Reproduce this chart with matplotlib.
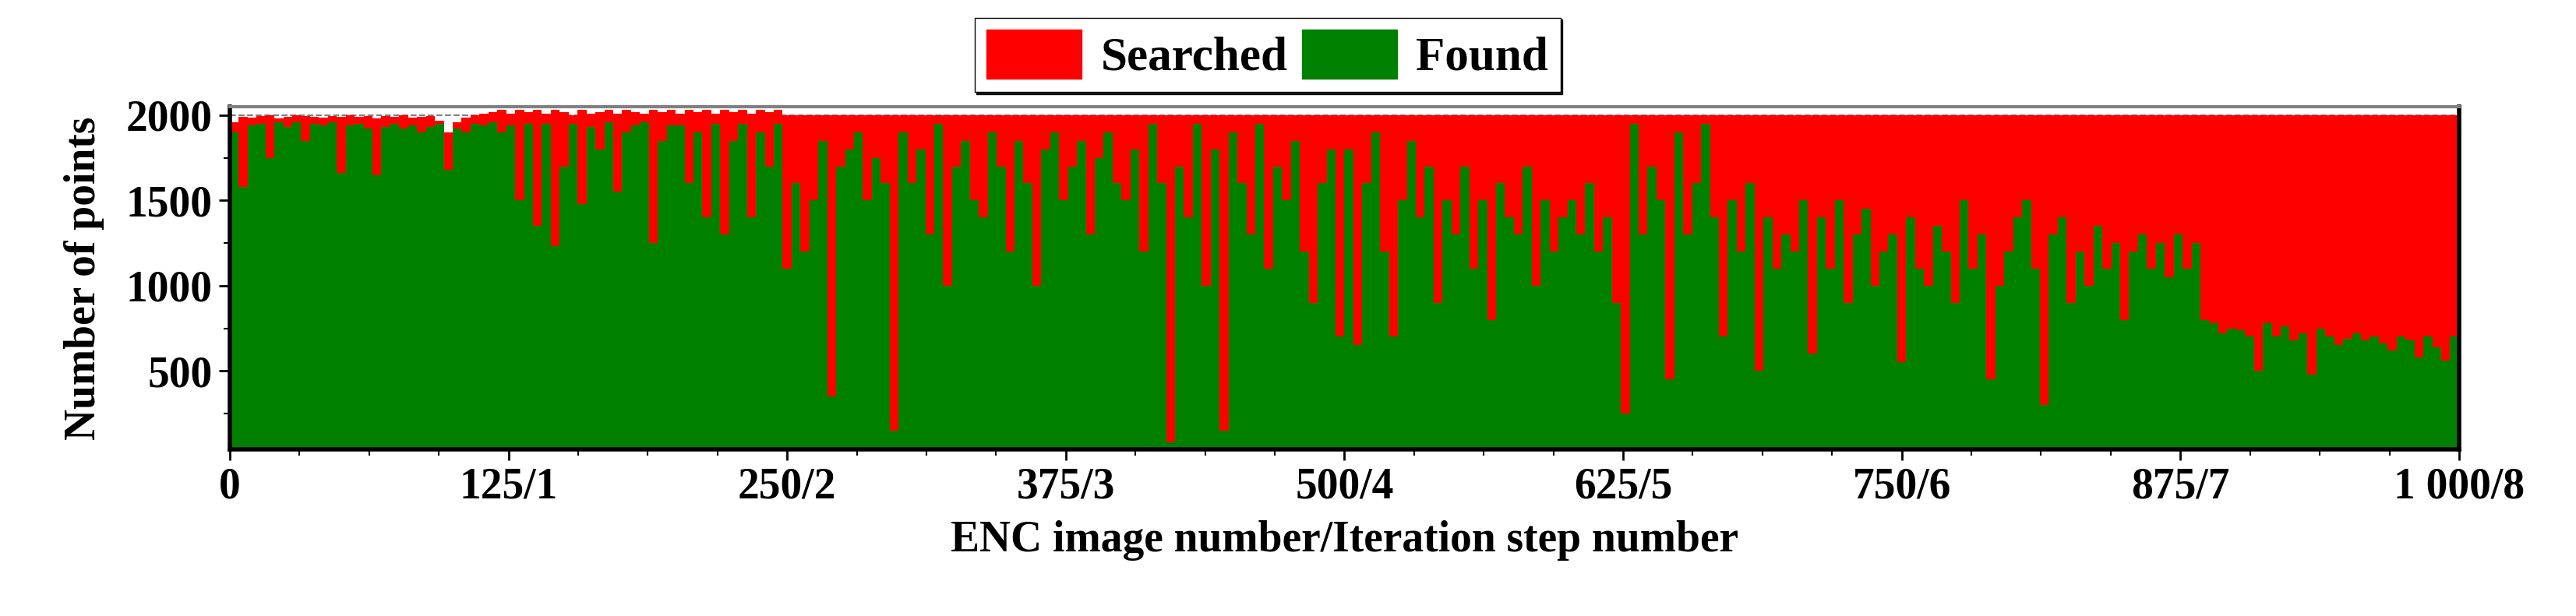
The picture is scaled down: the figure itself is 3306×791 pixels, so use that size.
import numpy as np
import matplotlib.pyplot as plt
from matplotlib.patches import Patch

# each value covers a group of 4 ENC images (250 groups over 0..1000)
found = [
    1900, 1580, 1940, 1950, 1750, 1960, 1930, 1960, 1850, 1950, 1940, 1960, 1660, 1940, 1950, 1920, 1650, 1930, 1950, 1920, 1940, 1900, 1930, 1950, 1680,
    1920, 1900, 1950, 1940, 1960, 1900, 1940, 1500, 1950, 1350, 1950, 1230, 1700, 1950, 1480, 1930, 1800, 1960, 1550, 1900, 1940, 1960, 1250, 1850, 1940,
    1940, 1600, 1900, 1400, 1950, 1300, 1850, 1950, 1400, 1900, 1700, 1950, 1100, 1600, 1200, 1500, 1850, 350, 1700, 1800, 1900, 1500, 1750, 1600, 150,
    1900, 1600, 1800, 1300, 1950, 1000, 1700, 1850, 1500, 1400, 1900, 1700, 1200, 1850, 1600, 1000, 1800, 1900, 1500, 1700, 1850, 1300, 1750, 1900, 1600,
    1500, 1800, 1200, 1950, 1600, 80, 1700, 1400, 1950, 1000, 1800, 150, 1900, 1600, 1300, 1950, 1100, 1700, 1500, 1850, 1200, 900, 1600, 1800, 700,
    1800, 650, 1600, 1900, 1200, 700, 1500, 1850, 1400, 1700, 900, 1500, 1300, 1700, 1100, 1500, 800, 1600, 1400, 1300, 1700, 1000, 1500, 1200, 1400,
    1500, 1300, 1600, 1200, 1400, 900, 250, 1950, 1300, 1700, 1500, 450, 1900, 1300, 1600, 1950, 1400, 700, 1500, 1200, 1600, 500, 1400, 1100, 1300,
    1200, 1500, 600, 1400, 1100, 1500, 900, 1300, 1450, 1000, 1200, 1300, 550, 1400, 1100, 1000, 1350, 1200, 900, 1500, 1100, 1300, 450, 1000, 1200,
    1400, 1500, 1100, 300, 1300, 1400, 900, 1200, 1000, 1350, 1100, 1250, 800, 1200, 1300, 1100, 1250, 1050, 1300, 1100, 1250, 800, 780, 720, 750,
    740, 700, 500, 780, 700, 760, 680, 720, 480, 750, 700, 650, 690, 720, 680, 700, 660, 620, 700, 680, 580, 700, 640, 560, 700,
]
searched_start = [
    1960, 1990, 1985, 1995, 2000, 1980, 1990, 2000, 1995, 1990, 1985, 1995, 1990, 2000, 1990, 1995, 1980, 1995, 1990, 2000, 1985, 1990, 1995, 1970, 1900,
    1960, 1985, 2000, 2010, 2020, 2030, 2010, 2030, 2020, 2030, 2010, 2030, 2020, 2000, 2030, 2010, 2020, 2030, 2010, 2030, 2020, 2010, 2030, 2020, 2030,
    2010, 2030, 2020, 2030, 2010, 2030, 2020, 2030, 2010, 2030, 2020, 2030, 2000,
]
searched = searched_start + [2000] * (len(found) - len(searched_start))

tick_pos = [0, 125, 250, 375, 500, 625, 750, 875, 1000]
tick_labels = ['0', '125/1', '250/2', '375/3', '500/4', '625/5', '750/6', '875/7', '1 000/8']

plt.rcParams['font.family'] = ['Liberation Serif', 'DejaVu Serif']
plt.rcParams['font.weight'] = 'bold'

fig = plt.figure(figsize=(33.06, 7.91), dpi=100)
ax = fig.add_axes([0.0892, 0.2706, 0.8654, 0.5562])

x = np.arange(len(found)) * 4
ax.axhline(2000, color='gray', ls='--', lw=1.5, zorder=0)
ax.bar(x, searched, width=4, align='edge', color='#ff0000', linewidth=0, zorder=1)
ax.bar(x, found, width=4, align='edge', color='#008000', linewidth=0, zorder=2)

ax.set_xlim(0, 1000)
ax.set_ylim(40, 2050)
ax.set_xticks(tick_pos)
ax.set_xticklabels(tick_labels)
ax.set_xticks(np.arange(0, 1001, 31.25), minor=True)
ax.set_yticks([500, 1000, 1500, 2000])
ax.set_yticks(np.arange(250, 2001, 250), minor=True)
ax.tick_params(labelsize=40, width=2, length=10, pad=6)
ax.tick_params(which='minor', width=1.5, length=6)
ax.set_xlabel('ENC image number/Iteration step number', fontsize=40, fontweight='bold', labelpad=12)
ax.set_ylabel('Number of points', fontsize=40, fontweight='bold', labelpad=20)

for s in ['left', 'bottom', 'right']:
    ax.spines[s].set_linewidth(4)
ax.spines['top'].set_color('gray')
ax.spines['top'].set_linewidth(3)

handles = [Patch(color='#ff0000', label='Searched'), Patch(color='#008000', label='Found')]
fig.legend(handles=handles, loc='center', bbox_to_anchor=(0.492, 0.911), ncol=2,
           fontsize=44, frameon=True, fancybox=False, shadow={'color': 'black', 'alpha': 0.9},
           edgecolor='black', handlelength=2.0, handleheight=1.2, handletextpad=0.4,
           columnspacing=0.3, borderpad=0.25, borderaxespad=0)

fig.savefig('out.png', dpi=100)
